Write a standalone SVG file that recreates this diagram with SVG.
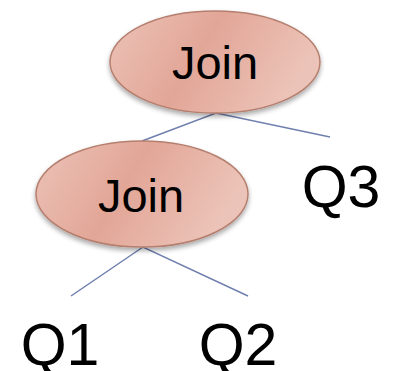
<svg xmlns="http://www.w3.org/2000/svg" width="395" height="371" viewBox="0 0 395 371">
  <style>
    .node-shape { fill: url(#joinFill); stroke: #b57f6f; stroke-width: 1.5; filter: url(#shadow); }
    .label { font-family: "Liberation Sans", Arial, sans-serif; fill: #000; text-anchor: middle; }
    .join { font-size: 47px; }
    .leaf { font-size: 59px; }
    .edge { stroke: #6f7fae; stroke-width: 1.5; fill: none; }
  </style>
  <defs>
    <linearGradient id="joinFill" x1="0" y1="0" x2="1" y2="0.3">
      <stop offset="0" stop-color="#ecc3b8"/>
      <stop offset="0.5" stop-color="#e2a697"/>
      <stop offset="1" stop-color="#ecc3b8"/>
    </linearGradient>
    <filter id="shadow" x="-20%" y="-20%" width="140%" height="150%">
      <feGaussianBlur in="SourceAlpha" stdDeviation="2.5"/>
      <feOffset dx="0" dy="3" result="blur"/>
      <feComponentTransfer><feFuncA type="linear" slope="0.35"/></feComponentTransfer>
      <feMerge><feMergeNode/><feMergeNode in="SourceGraphic"/></feMerge>
    </filter>
  </defs>

  <!-- connectors -->
  <g id="edges">
    <polyline class="edge" points="142,141 216,113 330,137"/>
    <polyline class="edge" points="71,296 143,247 248,296"/>
  </g>

  <g id="join-top">
    <ellipse class="node-shape" cx="215" cy="62" rx="105" ry="51"/>
    <text class="label join" x="215" y="79">Join</text>
  </g>

  <g id="join-bottom">
    <ellipse class="node-shape" cx="142" cy="194" rx="106" ry="53"/>
    <text class="label join" x="141" y="212">Join</text>
  </g>

  <g id="q1">
    <text class="label leaf" x="60" y="365">Q1</text>
  </g>
  <g id="q2">
    <text class="label leaf" x="238" y="365">Q2</text>
  </g>
  <g id="q3">
    <text class="label leaf" x="341" y="207">Q3</text>
  </g>
</svg>
